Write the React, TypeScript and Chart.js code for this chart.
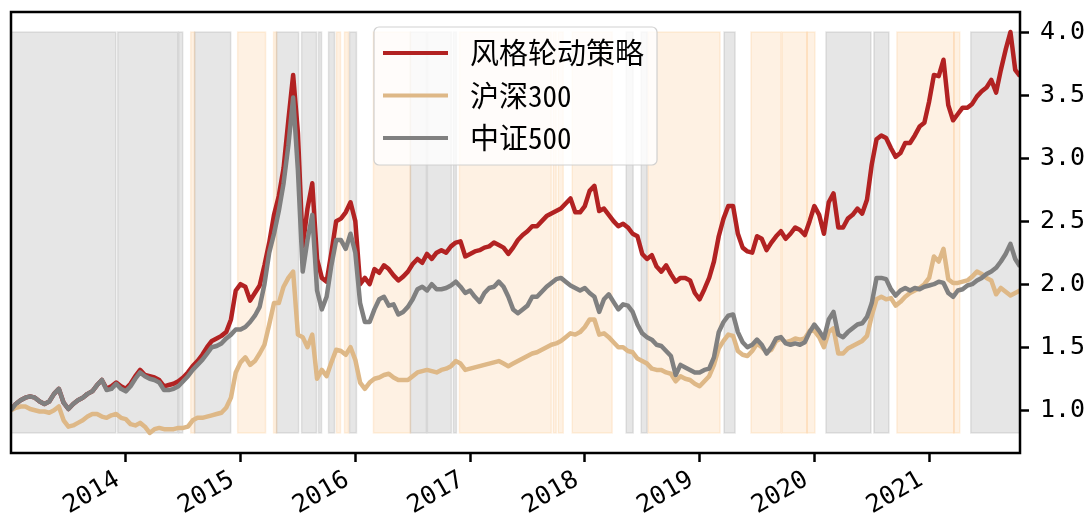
import React, { useEffect, useRef } from 'react';
import { Chart, registerables } from 'chart.js';

Chart.register(...registerables);

// ---- data (semi-monthly samples, values normalised to 1.0 at start) ----
const START_YEAR = 2013;
const SAMPLES_PER_YEAR = 24;

const seriesLabels = ['风格轮动策略', '沪深300', '中证500'];
const seriesColors = ['#b22222', '#deb887', '#808080'];

const strategy = [
  1.00, 1.05, 1.08, 1.10, 1.11, 1.10, 1.07, 1.05, 1.07, 1.13, 1.17, 1.06, 1.01, 1.05, 1.08, 1.10, 1.13, 1.15, 1.20, 1.24, 1.17, 1.19, 1.22, 1.19,
  1.17, 1.21, 1.27, 1.32, 1.28, 1.27, 1.26, 1.24, 1.19, 1.20, 1.21, 1.23, 1.26, 1.30, 1.35, 1.39, 1.44, 1.50, 1.55, 1.57, 1.59, 1.62, 1.72, 1.95,
  2.00, 1.98, 1.87, 1.93, 1.99, 2.15, 2.33, 2.55, 2.70, 2.92, 3.30, 3.66, 3.20, 2.30, 2.60, 2.80, 2.20, 2.05, 2.02, 2.25, 2.50, 2.52, 2.57, 2.65,
  2.50, 2.00, 2.05, 2.00, 2.12, 2.09, 2.15, 2.12, 2.07, 2.03, 2.06, 2.10, 2.16, 2.20, 2.17, 2.24, 2.20, 2.25, 2.27, 2.25, 2.30, 2.33, 2.34, 2.22,
  2.24, 2.26, 2.27, 2.29, 2.30, 2.33, 2.31, 2.29, 2.24, 2.29, 2.35, 2.39, 2.42, 2.46, 2.46, 2.50, 2.54, 2.56, 2.58, 2.60, 2.64, 2.68, 2.57, 2.57,
  2.62, 2.74, 2.78, 2.58, 2.60, 2.55, 2.50, 2.46, 2.48, 2.45, 2.40, 2.38, 2.24, 2.20, 2.23, 2.14, 2.10, 2.15, 2.08, 2.02, 2.05, 2.05, 2.03, 1.93,
  1.88, 1.96, 2.05, 2.18, 2.38, 2.52, 2.62, 2.62, 2.40, 2.29, 2.26, 2.25, 2.38, 2.36, 2.27, 2.33, 2.38, 2.42, 2.36, 2.40, 2.45, 2.43, 2.39, 2.50,
  2.62, 2.55, 2.40, 2.65, 2.72, 2.45, 2.45, 2.52, 2.55, 2.60, 2.56, 2.67, 2.95, 3.15, 3.18, 3.16, 3.08, 3.01, 3.04, 3.12, 3.12, 3.18, 3.25, 3.28,
  3.45, 3.66, 3.65, 3.78, 3.42, 3.30, 3.35, 3.40, 3.40, 3.43, 3.49, 3.53, 3.56, 3.62, 3.52, 3.70, 3.86, 4.00, 3.70, 3.65,
];

const hs300 = [
  1.00, 1.02, 1.03, 1.03, 1.01, 1.00, 0.99, 0.99, 0.98, 1.00, 1.03, 0.92, 0.87, 0.88, 0.90, 0.92, 0.95, 0.97, 0.97, 0.95, 0.94, 0.96, 0.97, 0.94,
  0.93, 0.89, 0.88, 0.90, 0.87, 0.82, 0.85, 0.86, 0.85, 0.85, 0.85, 0.86, 0.86, 0.87, 0.92, 0.94, 0.94, 0.95, 0.96, 0.97, 0.98, 1.02, 1.10, 1.30,
  1.38, 1.42, 1.36, 1.39, 1.45, 1.52, 1.68, 1.85, 1.85, 1.98, 2.05, 2.10, 1.60, 1.58, 1.50, 1.60, 1.25, 1.32, 1.27, 1.38, 1.48, 1.47, 1.44, 1.50,
  1.40, 1.22, 1.17, 1.22, 1.25, 1.26, 1.28, 1.29, 1.26, 1.24, 1.24, 1.24, 1.27, 1.30, 1.31, 1.32, 1.31, 1.30, 1.32, 1.33, 1.35, 1.39, 1.37, 1.32,
  1.33, 1.34, 1.35, 1.36, 1.37, 1.38, 1.39, 1.37, 1.35, 1.37, 1.39, 1.41, 1.43, 1.45, 1.46, 1.48, 1.50, 1.52, 1.53, 1.55, 1.58, 1.61, 1.60, 1.62,
  1.66, 1.72, 1.72, 1.60, 1.61, 1.58, 1.54, 1.50, 1.50, 1.47, 1.46, 1.41, 1.39, 1.37, 1.33, 1.32, 1.32, 1.30, 1.29, 1.23, 1.27, 1.25, 1.24, 1.21,
  1.19, 1.23, 1.27, 1.36, 1.49, 1.55, 1.60, 1.59, 1.47, 1.44, 1.43, 1.47, 1.53, 1.50, 1.46, 1.48, 1.55, 1.57, 1.54, 1.55, 1.57, 1.56, 1.57, 1.63,
  1.63, 1.58, 1.50, 1.62, 1.65, 1.45, 1.45, 1.49, 1.51, 1.53, 1.55, 1.59, 1.75, 1.88, 1.90, 1.88, 1.89, 1.83, 1.86, 1.90, 1.93, 1.95, 1.97, 2.00,
  2.05, 2.22, 2.18, 2.28, 2.04, 2.01, 2.01, 2.02, 2.03, 2.06, 2.10, 2.08, 2.05, 2.03, 1.92, 1.97, 1.94, 1.91, 1.93, 1.95,
];

const zz500 = [
  1.00, 1.05, 1.08, 1.10, 1.11, 1.10, 1.07, 1.05, 1.07, 1.13, 1.17, 1.06, 1.01, 1.05, 1.08, 1.10, 1.13, 1.15, 1.20, 1.24, 1.16, 1.17, 1.21, 1.17,
  1.15, 1.19, 1.25, 1.30, 1.27, 1.25, 1.24, 1.22, 1.16, 1.16, 1.17, 1.19, 1.23, 1.27, 1.32, 1.36, 1.40, 1.45, 1.50, 1.51, 1.53, 1.57, 1.60, 1.64,
  1.64, 1.66, 1.70, 1.75, 1.82, 2.00, 2.25, 2.40, 2.58, 2.80, 3.10, 3.48, 2.90, 2.10, 2.35, 2.55, 1.95, 1.80, 1.90, 2.15, 2.35, 2.35, 2.28, 2.40,
  2.25, 1.85, 1.70, 1.70, 1.80, 1.88, 1.90, 1.83, 1.84, 1.76, 1.78, 1.82, 1.88, 1.96, 1.98, 1.95, 2.00, 1.96, 1.96, 1.97, 1.99, 2.02, 1.98, 1.93,
  1.95, 1.90, 1.86, 1.93, 1.97, 1.98, 2.02, 1.98, 1.90, 1.80, 1.77, 1.80, 1.83, 1.90, 1.90, 1.94, 1.98, 2.01, 2.04, 2.05, 2.02, 1.99, 1.97, 1.95,
  1.97, 1.93, 1.90, 1.78, 1.88, 1.92, 1.86, 1.80, 1.84, 1.83, 1.78, 1.68, 1.61, 1.58, 1.56, 1.52, 1.51, 1.47, 1.43, 1.28, 1.36, 1.34, 1.32, 1.30,
  1.30, 1.32, 1.33, 1.42, 1.62, 1.70, 1.75, 1.76, 1.62, 1.54, 1.50, 1.52, 1.56, 1.52, 1.45, 1.50, 1.57, 1.58, 1.53, 1.52, 1.53, 1.52, 1.54, 1.62,
  1.68, 1.63, 1.57, 1.72, 1.78, 1.60, 1.58, 1.62, 1.65, 1.68, 1.69, 1.74, 1.85, 2.05, 2.05, 2.04, 1.96, 1.91, 1.95, 1.97, 1.95, 1.97, 1.96, 1.98,
  1.99, 2.00, 2.02, 2.01, 1.93, 1.90, 1.95, 1.96, 1.99, 2.00, 2.03, 2.05, 2.08, 2.10, 2.13, 2.18, 2.24, 2.32, 2.20, 2.14,
];

// sample dates (fractional years)
const dates = strategy.map((_, i) => START_YEAR + i / SAMPLES_PER_YEAR);

// periods holding 中证500 (grey) and 沪深300 (orange), as fractional years
const zz500Periods: [number, number][] = [
  [2013.0, 2013.913], [2013.93, 2014.453], [2014.461, 2014.496], [2014.6, 2014.914],
  [2015.314, 2015.506], [2015.532, 2015.662], [2015.68, 2015.706], [2015.767, 2015.819],
  [2015.95, 2016.01], [2016.48, 2016.62], [2016.628, 2016.837], [2016.855, 2016.881],
  [2018.36, 2018.421], [2018.491, 2018.543], [2019.213, 2019.309], [2020.101, 2020.493],
  [2020.519, 2020.649], [2021.363, 2021.792],
];
const hs300Periods: [number, number][] = [
  [2014.566, 2014.6], [2014.975, 2015.218], [2015.288, 2015.314], [2015.836, 2015.871],
  [2015.906, 2015.941], [2016.158, 2016.48], [2016.907, 2017.708], [2017.725, 2017.751],
  [2017.768, 2017.812], [2017.89, 2018.238], [2018.552, 2019.178], [2019.448, 2019.71],
  [2019.718, 2019.936], [2019.936, 2020.005], [2020.719, 2021.216], [2021.216, 2021.267],
];

const xTickYears = [2014, 2015, 2016, 2017, 2018, 2019, 2020, 2021];
const yTickValues = [1.0, 1.5, 2.0, 2.5, 3.0, 3.5, 4.0];

// ---- derived ranges ----
const allValues = [...strategy, ...hs300, ...zz500];
const dataMin = Math.min(...allValues);
const dataMax = Math.max(...allValues);
const span = dataMax - dataMin;
const yMin = dataMin - 0.05 * span;
const yMax = dataMax + 0.05 * span;

const GREY_FILL = 'rgba(128,128,128,0.2)';
const ORANGE_FILL = 'rgba(250,150,40,0.13)';

const shadePlugin = {
  id: 'regimeShade',
  beforeDatasetsDraw(chart: any) {
    const { ctx, chartArea: a, scales } = chart;
    const x = scales.x;
    const y = scales.y;
    const top = y.getPixelForValue(dataMax);
    const bot = y.getPixelForValue(dataMin);
    ctx.save();
    ctx.beginPath();
    ctx.rect(a.left, a.top, a.right - a.left, a.bottom - a.top);
    ctx.clip();
    const drawSet = (periods: [number, number][], color: string) => {
      ctx.fillStyle = color;
      ctx.strokeStyle = color;
      ctx.lineWidth = 1.5;
      periods.forEach(([s, e]) => {
        const x0 = x.getPixelForValue(s);
        const x1 = x.getPixelForValue(e);
        ctx.fillRect(x0, top, x1 - x0, bot - top);
        ctx.strokeRect(x0, top, x1 - x0, bot - top);
      });
    };
    drawSet(zz500Periods, GREY_FILL);
    drawSet(hs300Periods, ORANGE_FILL);
    ctx.restore();
  },
};

const framePlugin = {
  id: 'frameAndLegend',
  afterDraw(chart: any) {
    const { ctx, chartArea: a } = chart;
    ctx.save();
    ctx.strokeStyle = '#000';
    ctx.lineWidth = 2.5;
    ctx.strokeRect(a.left, a.top, a.right - a.left, a.bottom - a.top);

    // legend box
    ctx.font = '29px "Noto Sans Mono CJK SC", "Noto Sans CJK SC", sans-serif';
    const labels = chart.data.datasets.map((d: any) => d.label as string);
    const textW = Math.max(...labels.map((l: string) => ctx.measureText(l).width));
    const padL = 9;
    const lineLen = 65;
    const gap = 22;
    const padR = 13;
    const boxW = padL + lineLen + gap + textW + padR;
    const rowH = 42.5;
    const boxH = 26 + rowH * (labels.length - 1) + 27;
    const bx = (a.left + a.right) / 2 - boxW / 2;
    const by = a.top + 15;
    const r = 5;
    ctx.beginPath();
    ctx.moveTo(bx + r, by);
    ctx.lineTo(bx + boxW - r, by);
    ctx.arcTo(bx + boxW, by, bx + boxW, by + r, r);
    ctx.lineTo(bx + boxW, by + boxH - r);
    ctx.arcTo(bx + boxW, by + boxH, bx + boxW - r, by + boxH, r);
    ctx.lineTo(bx + r, by + boxH);
    ctx.arcTo(bx, by + boxH, bx, by + boxH - r, r);
    ctx.lineTo(bx, by + r);
    ctx.arcTo(bx, by, bx + r, by, r);
    ctx.closePath();
    ctx.fillStyle = 'rgba(255,255,255,0.8)';
    ctx.fill();
    ctx.strokeStyle = 'rgba(204,204,204,0.9)';
    ctx.lineWidth = 1.2;
    ctx.stroke();

    ctx.textBaseline = 'middle';
    ctx.textAlign = 'left';
    labels.forEach((label: string, i: number) => {
      const cy = by + 26 + i * rowH;
      ctx.strokeStyle = chart.data.datasets[i].borderColor;
      ctx.lineWidth = 4;
      ctx.beginPath();
      ctx.moveTo(bx + padL, cy);
      ctx.lineTo(bx + padL + lineLen, cy);
      ctx.stroke();
      ctx.fillStyle = '#000';
      ctx.fillText(label, bx + padL + lineLen + gap, cy);
    });
    ctx.restore();
  },
};

const tickFont = { family: '"DejaVu Sans Mono", "Liberation Mono", monospace', size: 25 };

export default function App() {
  const ref = useRef<HTMLCanvasElement>(null);

  useEffect(() => {
    const canvas = ref.current;
    if (!canvas) return;
    const seriesValues = [strategy, hs300, zz500];
    const chart = new Chart(canvas, {
      type: 'line',
      data: {
        datasets: seriesValues.map((vals, i) => ({
          label: seriesLabels[i],
          data: dates.map((d, j) => ({ x: d, y: vals[j] })),
          borderColor: seriesColors[i],
          backgroundColor: seriesColors[i],
          borderWidth: 4.5,
          pointRadius: 0,
          tension: 0,
          fill: false,
          order: 3 - i,
          borderJoinStyle: 'round' as const,
        })),
      },
      options: {
        responsive: false,
        animation: false,
        devicePixelRatio: 1,
        layout: { padding: { left: 11, top: 12, right: 0, bottom: 0 } },
        plugins: {
          legend: { display: false },
          tooltip: { enabled: false },
        },
        scales: {
          x: {
            type: 'linear',
            min: dates[0],
            max: dates[dates.length - 1],
            afterBuildTicks: (s: any) => {
              s.ticks = xTickYears.map((v) => ({ value: v }));
            },
            afterFit: (s: any) => {
              s.height = 71;
              s.paddingLeft = 0;
              s.paddingRight = 0;
            },
            grid: {
              display: true,
              drawOnChartArea: false,
              drawTicks: true,
              tickLength: 9,
              tickColor: '#000',
              tickWidth: 2.5,
              color: '#000',
            },
            border: { display: false },
            ticks: {
              autoSkip: false,
              minRotation: 30,
              maxRotation: 30,
              padding: 3,
              labelOffset: -8,
              color: '#000',
              font: tickFont,
              callback: (v: any) => String(v),
            },
          },
          y: {
            type: 'linear',
            position: 'right',
            min: yMin,
            max: yMax,
            afterBuildTicks: (s: any) => {
              s.ticks = yTickValues.map((v) => ({ value: v }));
            },
            afterFit: (s: any) => {
              s.width = 69;
              s.paddingTop = 0;
              s.paddingBottom = 0;
            },
            grid: {
              display: true,
              drawOnChartArea: false,
              drawTicks: true,
              tickLength: 9,
              tickColor: '#000',
              tickWidth: 2.5,
              color: '#000',
            },
            border: { display: false },
            ticks: {
              padding: 11,
              color: '#000',
              font: tickFont,
              callback: (v: any) => Number(v).toFixed(1),
            },
          },
        },
      },
      plugins: [shadePlugin, framePlugin],
    } as any);
    return () => chart.destroy();
  }, []);

  return (
    <div style={{ position: 'fixed', left: 0, top: 0, width: 1089, height: 524, background: '#fff' }}>
      <canvas ref={ref} width={1089} height={524} style={{ display: 'block', width: 1089, height: 524 }} />
    </div>
  );
}
